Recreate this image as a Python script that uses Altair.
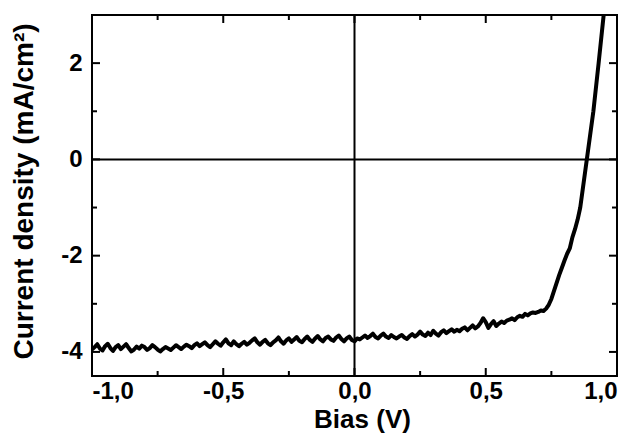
import altair as alt
import pandas as pd

bias = [-1.00, -0.99, -0.98, -0.97, -0.96, -0.95, -0.94, -0.93, -0.92, -0.91,
        -0.90, -0.89, -0.88, -0.87, -0.86, -0.85, -0.84, -0.83, -0.82, -0.81,
        -0.80, -0.79, -0.78, -0.77, -0.76, -0.75, -0.74, -0.73, -0.72, -0.71,
        -0.70, -0.69, -0.68, -0.67, -0.66, -0.65, -0.64, -0.63, -0.62, -0.61,
        -0.60, -0.59, -0.58, -0.57, -0.56, -0.55, -0.54, -0.53, -0.52, -0.51,
        -0.50, -0.49, -0.48, -0.47, -0.46, -0.45, -0.44, -0.43, -0.42, -0.41,
        -0.40, -0.39, -0.38, -0.37, -0.36, -0.35, -0.34, -0.33, -0.32, -0.31,
        -0.30, -0.29, -0.28, -0.27, -0.26, -0.25, -0.24, -0.23, -0.22, -0.21,
        -0.20, -0.19, -0.18, -0.17, -0.16, -0.15, -0.14, -0.13, -0.12, -0.11,
        -0.10, -0.09, -0.08, -0.07, -0.06, -0.05, -0.04, -0.03, -0.02, -0.01,
        0.00, 0.01, 0.02, 0.03, 0.04, 0.05, 0.06, 0.07, 0.08, 0.09,
        0.10, 0.11, 0.12, 0.13, 0.14, 0.15, 0.16, 0.17, 0.18, 0.19,
        0.20, 0.21, 0.22, 0.23, 0.24, 0.25, 0.26, 0.27, 0.28, 0.29,
        0.30, 0.31, 0.32, 0.33, 0.34, 0.35, 0.36, 0.37, 0.38, 0.39,
        0.40, 0.41, 0.42, 0.43, 0.44, 0.45, 0.46, 0.47, 0.48, 0.49,
        0.50, 0.51, 0.52, 0.53, 0.54, 0.55, 0.56, 0.57, 0.58, 0.59,
        0.60, 0.61, 0.62, 0.63, 0.64, 0.65, 0.66, 0.67, 0.68, 0.69,
        0.70, 0.71, 0.72, 0.73, 0.74, 0.75,
        0.765, 0.78, 0.79, 0.80, 0.81, 0.82, 0.83, 0.84, 0.85, 0.86,
        0.885, 0.91, 0.93, 0.955]
current = [-3.95, -3.90, -3.84, -3.93, -3.97, -3.88, -3.83, -3.92, -3.98, -3.90,
           -3.86, -3.94, -3.89, -3.84, -3.92, -3.99, -3.95, -3.89, -3.93, -3.87,
           -3.90, -3.96, -3.92, -3.86, -3.90, -3.95, -3.99, -3.94, -3.90, -3.93,
           -3.96, -3.91, -3.86, -3.90, -3.94, -3.89, -3.85, -3.88, -3.92, -3.86,
           -3.82, -3.88, -3.84, -3.80, -3.86, -3.90, -3.84, -3.78, -3.83, -3.87,
           -3.80, -3.74, -3.82, -3.86, -3.78, -3.84, -3.88, -3.83, -3.79, -3.85,
           -3.81, -3.76, -3.72, -3.80, -3.85, -3.79, -3.75, -3.82, -3.86, -3.80,
           -3.76, -3.70, -3.78, -3.83, -3.76, -3.72, -3.79, -3.74, -3.69, -3.77,
           -3.80, -3.73, -3.68, -3.75, -3.79, -3.72, -3.67, -3.74, -3.78, -3.71,
           -3.68, -3.74, -3.77, -3.70, -3.66, -3.73, -3.78, -3.72, -3.68, -3.75,
           -3.78, -3.72, -3.74, -3.70, -3.66, -3.71, -3.67, -3.62, -3.69, -3.72,
           -3.66, -3.62, -3.68, -3.71, -3.65, -3.69, -3.72, -3.68, -3.65, -3.70,
           -3.73, -3.67, -3.63, -3.68, -3.64, -3.58, -3.64, -3.67, -3.60, -3.65,
           -3.56, -3.62, -3.66, -3.59, -3.55, -3.61, -3.57, -3.53, -3.58, -3.54,
           -3.57, -3.52, -3.49, -3.55, -3.50, -3.45, -3.51, -3.47, -3.40, -3.30,
           -3.38, -3.50, -3.42, -3.36, -3.46, -3.41, -3.37, -3.40, -3.35, -3.33,
           -3.30, -3.34, -3.28, -3.25, -3.27, -3.21, -3.24, -3.20, -3.18, -3.19,
           -3.17, -3.14, -3.15, -3.10, -3.02, -2.90,
           -2.65, -2.40, -2.25, -2.10, -1.96, -1.85, -1.62, -1.45, -1.25, -1.00,
           0.00, 1.00, 2.00, 3.30]

x_major = [-1.0, -0.5, 0.0, 0.5, 1.0]
x_minor = [-0.75, -0.25, 0.25, 0.75]
y_major = [-4, -2, 0, 2]
y_minor = [-3, -1, 1]

W, H = 525, 361
FONT = "Liberation Sans"

df = pd.DataFrame({"bias": bias, "current": current})
xs = alt.Scale(domain=[-1.0, 1.0], nice=False, zero=False)
ys = alt.Scale(domain=[-4.5, 3.0], nice=False, zero=False)

line = alt.Chart(df).mark_line(color="black", strokeWidth=4, clip=True,
                               strokeJoin="round").encode(
    x=alt.X("bias:Q", scale=xs, axis=alt.Axis(
        title="Bias (V)", values=x_major, ticks=False, domain=False, grid=False,
        labelExpr="(datum.value < 0 ? '-' : '') + replace(format(abs(datum.value), '.1f'), '.', ',')",
        labelFont=FONT, labelFontSize=24, labelFontWeight="bold", labelColor="black",
        labelBaseline="alphabetic", labelPadding=22,
        titleFont=FONT, titleFontSize=26, titleFontWeight="bold", titleColor="black",
        titleX=270, titleY=51, titleBaseline="alphabetic")),
    y=alt.Y("current:Q", scale=ys, axis=alt.Axis(
        title="Current density (mA/cm²)", values=y_major, ticks=False, domain=False, grid=False,
        labelExpr="(datum.value < 0 ? '-' : '') + format(abs(datum.value), 'd')",
        labelFont=FONT, labelFontSize=24, labelFontWeight="bold", labelColor="black",
        labelPadding=10, labelBaseline="middle",
        titleFont=FONT, titleFontSize=28, titleFontWeight="bold", titleColor="black",
        titleX=-68, titleY=176, titleBaseline="middle", titleAngle=-90)),
)

zero_h = alt.Chart(pd.DataFrame({"v": [0]})).mark_rule(color="black", strokeWidth=2).encode(
    y=alt.Y("v:Q", scale=ys))
zero_v = alt.Chart(pd.DataFrame({"v": [0]})).mark_rule(color="black", strokeWidth=2).encode(
    x=alt.X("v:Q", scale=xs))

xmaj = pd.DataFrame({"t": [v for v in x_major if -1 < v < 1]})
xmin = pd.DataFrame({"t": x_minor})
ymaj = pd.DataFrame({"t": y_major})
ymin = pd.DataFrame({"t": y_minor})

def xticks(d, L):
    b = alt.Chart(d).mark_rule(color="black", strokeWidth=2).encode(
        x=alt.X("t:Q", scale=xs), y=alt.value(H), y2=alt.value(H - L))
    t = alt.Chart(d).mark_rule(color="black", strokeWidth=2).encode(
        x=alt.X("t:Q", scale=xs), y=alt.value(0), y2=alt.value(L))
    return [b, t]

def yticks(d, L):
    l = alt.Chart(d).mark_rule(color="black", strokeWidth=2).encode(
        y=alt.Y("t:Q", scale=ys), x=alt.value(0), x2=alt.value(L))
    r = alt.Chart(d).mark_rule(color="black", strokeWidth=2).encode(
        y=alt.Y("t:Q", scale=ys), x=alt.value(W), x2=alt.value(W - L))
    return [l, r]

layers = [zero_h, zero_v] + xticks(xmaj, 8) + xticks(xmin, 5) + yticks(ymaj, 8) + yticks(ymin, 5) + [line]

chart = alt.layer(*layers).properties(
    width=W, height=H,
    autosize=alt.AutoSizeParams(type="none"),
    padding={"left": 84, "top": 7, "right": 11, "bottom": 57},
).configure_view(stroke="black", strokeWidth=2).configure_axis(grid=False)

chart.save("out.html", embed_options={"renderer": "svg", "actions": False})
